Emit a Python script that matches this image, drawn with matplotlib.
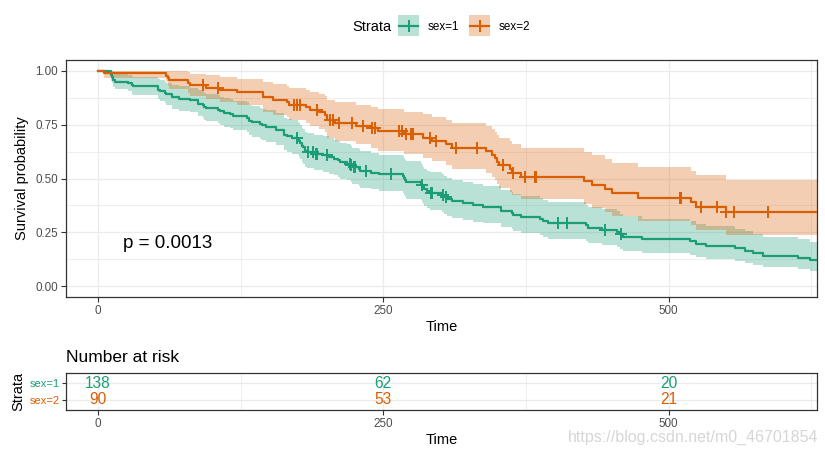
import numpy as np
import matplotlib
matplotlib.use("Agg")
import matplotlib.pyplot as plt
from matplotlib.patches import Rectangle
from matplotlib.lines import Line2D

plt.rcParams['font.family'] = ['Liberation Sans', 'DejaVu Sans']

# ---------------- data ----------------
strata = ["sex=1", "sex=2"]
colors = ["#1B9E77", "#D95F02"]

t1 = [0, 11, 12, 13, 15, 26, 30, 31,
      53, 54, 59, 60, 65, 71, 81, 88, 92, 93, 95,
      105, 107, 110, 116, 118,
      131, 132, 135, 142, 144, 147,
      156, 163, 166, 170, 175, 176, 177, 179, 180, 181, 183, 189, 197,
      202, 207, 210, 212, 218, 222, 223, 229, 230, 239, 246,
      267, 268, 269, 270, 283, 284, 285, 286, 288, 291,
      301, 303, 306, 310, 320, 329, 337, 353, 363, 364, 371, 387, 390, 394,
      428, 429, 442, 455, 457, 460, 477,
      519, 524, 533, 558, 567, 574, 583,
      613, 624, 643]
s1 = [1, .9783, .9710, .9565, .9493, .9420, .9348, .9275,
      .9130, .9058, .8986, .8913, .8768, .8696, .8623, .8478, .8406, .8333, .8261,
      .8188, .8116, .8043, .7971, .7899,
      .7826, .7681, .7609, .7536, .7464, .7391,
      .7246, .7029, .6957, .6884, .6811, .6738, .6664, .6518, .6445, .6298, .6225, .6150, .6073,
      .5995, .5917, .5839, .5762, .5684, .5605, .5525, .5442, .5360, .5276, .5192,
      .5107, .5022, .4937, .4852, .4767, .4682, .4595, .4508, .4422, .4335,
      .4244, .4152, .4058, .3963, .3869, .3775, .3681, .3492, .3398, .3304, .3209, .3115, .3020, .2926,
      .2825, .2724, .2623, .2518, .2413, .2304, .2194,
      .2084, .1975, .1865, .1755, .1645, .1536, .1426,
      .1316, .1206, .1096]
lo1 = [1, .9542, .9434, .9231, .9134, .9038, .8945, .8853,
       .8672, .8583, .8496, .8409, .8237, .8152, .8067, .7900, .7817, .7734, .7652,
       .7570, .7489, .7408, .7328, .7247,
       .7167, .7008, .6929, .6851, .6772, .6694,
       .6538, .6306, .6230, .6153, .6076, .5999, .5922, .5769, .5693, .5541, .5466, .5388, .5309,
       .5228, .5148, .5068, .4988, .4909, .4829, .4747, .4663, .4579, .4494, .4409,
       .4323, .4238, .4152, .4067, .3982, .3897, .3811, .3725, .3640, .3554,
       .3464, .3373, .3279, .3187, .3094, .3003, .2912, .2729, .2641, .2551, .2462, .2374, .2286, .2199,
       .2105, .2012, .1920, .1824, .1730, .1631, .1532,
       .1435, .1339, .1245, .1152, .1061, .0971, .0883,
       .0796, .0711, .0629]
hi1 = [1, 1.000, .999, .991, .987, .982, .977, .972,
       .961, .956, .950, .945, .933, .928, .922, .910, .904, .898, .892,
       .886, .880, .873, .867, .861,
       .855, .842, .835, .829, .823, .816,
       .803, .783, .777, .770, .763, .757, .750, .736, .730, .716, .709, .702, .695,
       .687, .680, .673, .665, .658, .651, .643, .635, .627, .619, .611,
       .603, .595, .587, .579, .571, .562, .554, .546, .537, .529,
       .520, .511, .502, .493, .484, .475, .465, .447, .437, .428, .418, .409, .399, .389,
       .379, .369, .358, .348, .337, .325, .314,
       .303, .291, .279, .267, .255, .243, .230,
       .217, .205, .191]
c1 = [174, 184, 188, 191, 192, 201, 221, 222, 224, 225, 235, 257, 284,
      292, 293, 302, 305, 403, 411, 444, 458]

t2 = [0, 5, 60, 61, 62, 79, 81, 95, 107, 122,
      145, 153, 166, 167, 182, 186, 194, 199, 201, 208,
      226, 239, 245, 268, 285, 293, 305, 310, 340, 345,
      348, 350, 351, 361, 363, 371, 426, 433, 444, 450,
      473, 520, 524, 550, 641]
s2 = [1, .9889, .9778, .9667, .9556, .9444, .9333, .9221, .9107, .8993,
      .8766, .8652, .8538, .8424, .8305, .8187, .8066, .7946, .7705, .7581,
      .7452, .7322, .7186, .7045, .6895, .6742, .6585, .6428, .6264, .6099,
      .5934, .5769, .5604, .5434, .5265, .5089, .4893, .4698, .4502, .4306,
      .4110, .3894, .3678, .3433, .3121]
lo2 = [1, .9675, .9478, .9303, .9139, .8983, .8832, .8683, .8535, .8390,
       .8108, .7970, .7834, .7699, .7559, .7420, .7280, .7142, .6869, .6729,
       .6584, .6438, .6287, .6129, .5962, .5791, .5618, .5447, .5267, .5089,
       .4913, .4739, .4566, .4390, .4215, .4035, .3832, .3632, .3435, .3241,
       .3050, .2837, .2628, .2390, .2076]
hi2 = [1, 1, 1, 1, .999, .993, .986, .979, .972, .964,
       .948, .939, .931, .922, .913, .903, .894, .884, .864, .854,
       .843, .833, .821, .810, .798, .785, .772, .759, .745, .731,
       .717, .702, .688, .673, .658, .642, .625, .608, .590, .572,
       .554, .534, .515, .493, .469]
c2 = [92, 105, 172, 174, 177, 192, 203, 206, 211, 223, 232, 240, 243,
      264, 266, 270, 274, 276, 291, 296, 314, 332, 355, 364, 374, 383, 384,
      510, 511, 528, 542, 550, 557, 587]

risk_times = [0, 250, 500]
risk_n1 = [138, 62, 20]
risk_n2 = [90, 53, 21]
pval_text = "p = 0.0013"
x_ticks = [0, 250, 500]
y_ticks = [0.0, 0.25, 0.5, 0.75, 1.0]
y_ticklabels = ["0.00", "0.25", "0.50", "0.75", "1.00"]

# ---------------- figure ----------------
W, H = 825, 455
fig = plt.figure(figsize=(W / 100, H / 100), dpi=100)
fig.patch.set_facecolor("white")

def fx(px):
    return px / W

def fy(py):
    return 1 - py / H

L, R = 66, 817
ax = fig.add_axes([fx(L), fy(297), fx(R - L), (297 - 60) / H])
ax2 = fig.add_axes([fx(L), fy(410), fx(R - L), (410 - 373) / H])

XLIM = (-28, 630)
grid_c = "#EBEBEB"
frame_c = "#333333"
tick_c = "#4D4D4D"

def style(a):
    for sp in a.spines.values():
        sp.set_color(frame_c)
        sp.set_linewidth(0.9)
    a.tick_params(colors=frame_c, labelcolor=tick_c, length=3.5, width=0.8,
                  labelsize=8.4, pad=2.5)
    a.set_axisbelow(True)

series = [(t1, s1, lo1, hi1, c1), (t2, s2, lo2, hi2, c2)]
MS, MEW = 8, 1.4

# main panel
for (t, s, lo, hi, cens), col in zip(series, colors):
    ax.fill_between(t, lo, hi, step="post", color=col, alpha=0.3, linewidth=0)
for (t, s, lo, hi, cens), col in zip(series, colors):
    ax.step(t, s, where="post", color=col, lw=1.6, zorder=3)
    ta = np.asarray(t)
    sa = np.asarray(s)
    idx = np.searchsorted(ta, np.asarray(cens), side="right") - 1
    ax.plot(cens, sa[idx], linestyle="none", marker="+", markersize=MS,
            markeredgewidth=MEW, color=col, zorder=4)

ax.set_xlim(*XLIM)
ax.set_ylim(-0.05, 1.05)
ax.set_xticks(x_ticks)
ax.set_xticks([125, 375, 625], minor=True)
ax.set_yticks(y_ticks)
ax.set_yticklabels(y_ticklabels)
ax.set_yticks([0.125, 0.375, 0.625, 0.875], minor=True)
ax.grid(which="major", color=grid_c, lw=0.9)
ax.grid(which="minor", color=grid_c, lw=0.6)
ax.tick_params(which="minor", length=0)
style(ax)
ax.set_xlabel("Time", fontsize=10.5, labelpad=2)
ax.set_ylabel("Survival probability", fontsize=10.5, labelpad=4)
ax.text(22, 0.2, pval_text, fontsize=13.5, ha="left", va="center", color="black")

# risk table
ax2.set_xlim(*XLIM)
ax2.set_ylim(2.6, 0.4)
ax2.set_xticks(x_ticks)
ax2.set_xticks([125, 375, 625], minor=True)
ax2.set_yticks([1, 2])
ax2.set_yticklabels(strata)
ax2.grid(which="major", color=grid_c, lw=0.9)
ax2.grid(which="minor", color=grid_c, lw=0.6)
ax2.tick_params(which="minor", length=0)
style(ax2)
ax2.tick_params(axis="y", labelsize=8.0, length=3, pad=1.5)
for lab, col in zip(ax2.get_yticklabels(), colors):
    lab.set_color(col)
for row, (ns, col) in enumerate(zip([risk_n1, risk_n2], colors), start=1):
    for tt, n in zip(risk_times, ns):
        ax2.text(tt, row, str(n), ha="center", va="center", fontsize=11.2, color=col)
ax2.set_xlabel("Time", fontsize=10.5, labelpad=2)
ax2.set_ylabel("Strata", fontsize=10.5, labelpad=3)
fig.text(fx(66), fy(357), "Number at risk", fontsize=12.5, ha="left", va="center")

# legend on top
fig.text(fx(352), fy(27), "Strata", fontsize=10.5, ha="left", va="center")
keys = [(398, 428, strata[0], colors[0]), (469, 499, strata[1], colors[1])]
for kx, tx, lab, col in keys:
    fig.patches.append(Rectangle((fx(kx), fy(36)), fx(21), 21 / H,
                                 transform=fig.transFigure, facecolor=col,
                                 alpha=0.3, edgecolor="none"))
    fig.lines.append(Line2D([fx(kx + 1), fx(kx + 20)], [fy(25.5), fy(25.5)],
                            transform=fig.transFigure, color=col, lw=1.6))
    fig.lines.append(Line2D([fx(kx + 10.5)], [fy(25.5)], transform=fig.transFigure,
                            color=col, marker="+", markersize=MS, markeredgewidth=MEW,
                            linestyle="none"))
    fig.text(fx(tx), fy(27), lab, fontsize=8.4, ha="left", va="center")

# watermark
fig.text(fx(818), fy(437), "https://blog.csdn.net/m0_46701854", fontsize=11.5,
         ha="right", va="center", color="#D6D6D6")

fig.savefig("out.png", dpi=100)
